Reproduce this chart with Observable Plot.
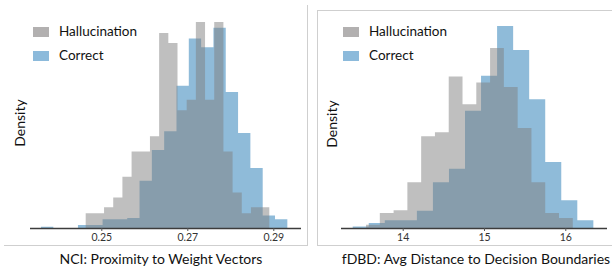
<!DOCTYPE html>
<html><head><meta charset="utf-8">
<script src="https://cdn.jsdelivr.net/npm/d3@7"></script>
<script src="https://cdn.jsdelivr.net/npm/@observablehq/plot@0.6"></script>
<style>
body{margin:0;background:#fff;}
#root{position:relative;width:612px;height:267px;font-family:Lato,"Open Sans",sans-serif;overflow:hidden;background:#fff;}
.plot{position:absolute;top:0;}
.title{position:absolute;font-size:14px;color:#111;white-space:nowrap;transform:translate(-50%,-50%);}
.ylab{position:absolute;font-size:14px;color:#111;white-space:nowrap;transform:translate(-50%,-50%) rotate(-90deg);}
.sw{position:absolute;width:16px;height:10px;}
.lt{position:absolute;font-size:13.5px;color:#111;white-space:nowrap;transform:translateY(-50%);}
.border{position:absolute;box-sizing:border-box;border-color:#cfcfcf;border-style:solid;border-width:0;}
</style>
</head><body>
<div id="root"></div>
<script>
// ---- data ----
const seriesNames = ["Hallucination", "Correct"];
const titles = ["NCI: Proximity to Weight Vectors", "fDBD: Avg Distance to Decision Boundaries"];
const yLabel = "Density";

// NCI panel: bin ranges and densities (20 bins each)
const nciHallRange = [0.24637, 0.28907];
const nciHall = [4.0, 4.0, 5.65, 8.3, 14.0, 20.9, 20.9, 25.0, 53.2, 50.5, 32.1, 35.0, 56.2, 35.0, 56.2, 20.9, 9.7, 4.0, 5.65, 5.65];
const nciCorrRange = [0.23598, 0.29326];
const nciCorr = [0.35, 0, 0, 0.8, 0.8, 2.4, 2.4, 2.7, 12.9, 21.3, 26.4, 38.8, 51.7, 49.3, 54.6, 37.1, 25.9, 16.4, 3.4, 2.4];
const nciTicks = [0.25, 0.27, 0.29];

// fDBD panel: bin ranges and densities (15 bins each)
const fdbdHallRange = [13.549, 16.092];
const fdbdHall = [0.016, 0.075, 0.088, 0.227, 0.456, 0.476, 0.754, 0.616, 0.724, 0.895, 0.701, 0.497, 0.227, 0.075, 0.050];
const fdbdCorrRange = [13.385, 16.345];
const fdbdCorr = [0.008, 0.025, 0.038, 0.038, 0.086, 0.227, 0.295, 0.583, 0.757, 1.005, 0.886, 0.641, 0.328, 0.138, 0.038];
const fdbdTicks = [14, 15, 16];

// ---- helpers ----
const HALL = "#808080", CORR = "#1f77b4";
function steps(range, vals) {
  const n = vals.length, w = (range[1] - range[0]) / n;
  const pts = vals.map((v, i) => ({x: range[0] + i * w, y: v}));
  pts.push({x: range[1], y: vals[n - 1]});
  return pts;
}
function panel(o) {
  return Plot.plot({
    width: 306, height: 245,
    marginLeft: o.ml, marginRight: 5, marginTop: o.mt, marginBottom: 17,
    style: {fontFamily: "Lato, 'Open Sans', sans-serif", background: "transparent", overflow: "visible"},
    x: {domain: o.xDomain, label: null},
    y: {domain: [0, o.yMax], axis: null},
    marks: [
      Plot.areaY(steps(o.corrRange, o.corr), {x: "x", y: "y", curve: "step-after", fill: CORR, fillOpacity: 0.5}),
      Plot.areaY(steps(o.hallRange, o.hall), {x: "x", y: "y", curve: "step-after", fill: HALL, fillOpacity: 0.5}),
      Plot.ruleY([0], {stroke: "#3c3c3c", strokeWidth: 1.5}),
      Plot.axisX({ticks: o.ticks, tickFormat: o.fmt, tickSize: 3, tickPadding: 2, fontSize: 10.5, fill: "#333", stroke: "#555", label: null})
    ]
  });
}
const root = document.getElementById("root");
function add(html) { root.insertAdjacentHTML("beforeend", html); }

// panel borders
add('<div class="border" style="left:4px;top:5px;width:304px;height:241px;border-right-width:1px;border-bottom-width:1px;"></div>');
add('<div class="border" style="left:317px;top:10px;width:300px;height:236px;border-left-width:1px;border-top-width:1px;border-bottom-width:1px;"></div>');

const p1 = panel({ml: 30, mt: 22, xDomain: [0.23342, 0.29644], yMax: 56.2, ticks: nciTicks, fmt: d3.format(".2f"),
  hallRange: nciHallRange, hall: nciHall, corrRange: nciCorrRange, corr: nciCorr});
p1.classList.add("plot"); p1.style.left = "0px"; root.appendChild(p1);
const p2 = panel({ml: 35, mt: 26, xDomain: [13.241, 16.513], yMax: 1.005, ticks: fdbdTicks, fmt: d3.format("d"),
  hallRange: fdbdHallRange, hall: fdbdHall, corrRange: fdbdCorrRange, corr: fdbdCorr});
p2.classList.add("plot"); p2.style.left = "306px"; root.appendChild(p2);

// titles, y labels, legends
add(`<div class="title" style="left:161px;top:258px;">${titles[0]}</div>`);
add(`<div class="title" style="left:476px;top:258px;">${titles[1]}</div>`);
add(`<div class="ylab" style="left:19px;top:123px;">${yLabel}</div>`);
add(`<div class="ylab" style="left:331px;top:124px;">${yLabel}</div>`);
function legend(x) {
  add(`<div class="sw" style="left:${x}px;top:26.5px;background:#b2b0b0;"></div>`);
  add(`<div class="lt" style="left:${x + 26}px;top:31px;">${seriesNames[0]}</div>`);
  add(`<div class="sw" style="left:${x}px;top:50.5px;background:#8cbadb;"></div>`);
  add(`<div class="lt" style="left:${x + 26}px;top:55px;">${seriesNames[1]}</div>`);
}
legend(33);
legend(343);
</script>
</body></html>
